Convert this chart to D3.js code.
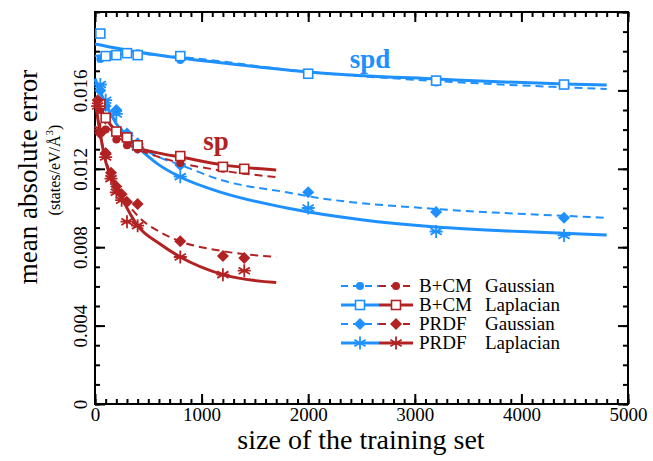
<!DOCTYPE html>
<html>
<head>
<meta charset="utf-8">
<script src="https://cdn.jsdelivr.net/npm/d3@7"></script>
<style>
  body { margin: 0; background: #fff; }
  text { font-family: "Liberation Serif", "DejaVu Serif", serif; }
</style>
</head>
<body>
<div id="chart"></div>
<script>
// chart size
var svg_w = 653;
var svg_h = 461;

var blue = "#1e90ff";
var red = "#b22222";

// tick labels
var xTicks = [0, 1000, 2000, 3000, 4000, 5000];
var yTicks = [0, 0.004, 0.008, 0.012, 0.016];

// measured points  [size, error]
// spd (blue)
var spd_bcm_gauss = [[50, 0.0176], [100, 0.0178], [200, 0.0178], [300, 0.01795], [400, 0.0179], [800, 0.01755], [2000, 0.0169], [3200, 0.0164], [4400, 0.01625]];
var spd_bcm_lapl = [[50, 0.0189], [100, 0.01775], [200, 0.0178], [300, 0.0179], [400, 0.0178], [800, 0.01775], [2000, 0.01685], [3200, 0.0165], [4400, 0.0163]];
var spd_prdf_gauss = [[50, 0.0160], [100, 0.0152], [200, 0.0150], [300, 0.0138], [400, 0.0133], [800, 0.0122], [2000, 0.0108], [3200, 0.0098], [4400, 0.0095]];
var spd_prdf_lapl = [[50, 0.0163], [100, 0.0155], [200, 0.0148], [300, 0.0137], [400, 0.0131], [800, 0.0116], [2000, 0.0100], [3200, 0.0088], [4400, 0.0086]];
// sp (red)
var sp_bcm_gauss = [[50, 0.0150], [100, 0.0140], [200, 0.0135], [300, 0.0132], [400, 0.0130], [800, 0.0123], [1200, 0.0120], [1400, 0.0119]];
var sp_bcm_lapl = [[50, 0.0153], [100, 0.0146], [200, 0.0139], [300, 0.0136], [400, 0.0132], [800, 0.01265], [1200, 0.0121], [1400, 0.0120]];
var sp_prdf_gauss = [[25, 0.0155], [50, 0.0138], [100, 0.0128], [150, 0.0118], [200, 0.0111], [250, 0.0107], [300, 0.0103], [400, 0.0102], [800, 0.0083], [1200, 0.00755], [1400, 0.00745]];
var sp_prdf_lapl = [[25, 0.0152], [50, 0.0140], [100, 0.0126], [150, 0.0115], [200, 0.0108], [250, 0.0104], [300, 0.0093], [400, 0.0091], [800, 0.0075], [1200, 0.0066], [1400, 0.0068]];

// fitted curves
var fit_spd_bcm_gauss = [[0, 0.01776], [400, 0.01786], [800, 0.0177], [2000, 0.01694], [3200, 0.01648], [4800, 0.01607]];
var fit_spd_bcm_lapl = [[0, 0.01837], [400, 0.01796], [800, 0.01765], [1200, 0.0174], [2000, 0.01694], [3200, 0.01658], [4400, 0.01633], [4800, 0.01628]];
var fit_spd_prdf_gauss = [[0, 0.0165], [100, 0.0153], [200, 0.0144], [300, 0.0137], [400, 0.0132], [600, 0.0126], [800, 0.0122], [1200, 0.0114], [1800, 0.0108], [2000, 0.0106], [3200, 0.00995], [4400, 0.0096], [4800, 0.0095]];
var fit_spd_prdf_lapl = [[0, 0.0166], [100, 0.0153], [200, 0.0143], [300, 0.0136], [400, 0.0131], [600, 0.0122], [800, 0.01158], [1200, 0.01077], [1800, 0.0100], [2500, 0.0094], [3200, 0.00903], [4000, 0.0088], [4800, 0.00862]];
var fit_sp_bcm_gauss = [[0, 0.0152], [100, 0.0143], [200, 0.0137], [300, 0.0133], [400, 0.0130], [600, 0.0126], [800, 0.0123], [1200, 0.0119], [1700, 0.01158]];
var fit_sp_bcm_lapl = [[0, 0.0156], [100, 0.0146], [200, 0.0139], [300, 0.0135], [400, 0.0131], [600, 0.0128], [800, 0.0126], [1200, 0.0122], [1700, 0.01194]];
var fit_sp_prdf_gauss = [[0, 0.0155], [75, 0.0131], [263, 0.0106], [400, 0.0096], [600, 0.0088], [800, 0.0083], [1200, 0.0078], [1700, 0.0075]];
var fit_sp_prdf_lapl = [[0, 0.0155], [75, 0.0130], [263, 0.0104], [400, 0.0091], [600, 0.0082], [800, 0.0075], [1200, 0.0066], [1700, 0.0062]];

var legendNames = [["B+CM", "Gaussian"], ["B+CM", "Laplacian"], ["PRDF", "Gaussian"], ["PRDF", "Laplacian"]];

var svg = d3.select("#chart").append("svg")
  .attr("width", svg_w)
  .attr("height", svg_h);

svg.append("rect").attr("width", svg_w).attr("height", svg_h).attr("fill", "#fff");

var x = d3.scaleLinear().domain([0, 5000]).range([95, 628]);
var y = d3.scaleLinear().domain([0, 0.02]).range([404, 12]);

// minor ticks
var xMinor = d3.range(0, 5001, 100);
var yMinor = d3.range(0, 0.02001, 0.001);

function styleAxis(g) {
  g.select(".domain").remove();
  g.selectAll("line").attr("stroke", "#000").attr("stroke-width", 2);
}

svg.append("g").attr("transform", "translate(0,404)")
  .call(d3.axisBottom(x).tickValues(xMinor).tickSize(-5).tickFormat("")).call(styleAxis);
svg.append("g").attr("transform", "translate(0,12)")
  .call(d3.axisTop(x).tickValues(xMinor).tickSize(-5).tickFormat("")).call(styleAxis);
svg.append("g").attr("transform", "translate(95,0)")
  .call(d3.axisLeft(y).tickValues(yMinor).tickSize(-5).tickFormat("")).call(styleAxis);
svg.append("g").attr("transform", "translate(628,0)")
  .call(d3.axisRight(y).tickValues(yMinor).tickSize(-5).tickFormat("")).call(styleAxis);

var xAxis = svg.append("g").attr("transform", "translate(0,404)")
  .call(d3.axisBottom(x).tickValues(xTicks).tickSize(-10).tickPadding(3).tickFormat(d3.format("d")))
  .call(styleAxis);
xAxis.selectAll("text").attr("font-size", 19).attr("fill", "#000")
  .attr("font-family", "Liberation Serif, serif");

svg.append("g").attr("transform", "translate(0,12)")
  .call(d3.axisTop(x).tickValues(xTicks).tickSize(-10).tickFormat("")).call(styleAxis);
svg.append("g").attr("transform", "translate(628,0)")
  .call(d3.axisRight(y).tickValues(yTicks.concat([0.02])).tickSize(-10).tickFormat("")).call(styleAxis);

var yAxis = svg.append("g").attr("transform", "translate(95,0)")
  .call(d3.axisLeft(y).tickValues(yTicks).tickSize(-10).tickFormat(function(d) { return d === 0 ? "0" : d3.format(".3f")(d); }))
  .call(styleAxis);
yAxis.selectAll("text")
  .attr("font-size", 19).attr("fill", "#000")
  .attr("font-family", "Liberation Serif, serif")
  .attr("text-anchor", "middle")
  .attr("x", 0).attr("y", -8).attr("dy", 0)
  .attr("transform", "rotate(-90)");

// frame
svg.append("rect").attr("x", 95).attr("y", 12).attr("width", 533).attr("height", 392)
  .attr("fill", "none").attr("stroke", "#000").attr("stroke-width", 2);

// fitted lines
var line = d3.line()
  .x(function(d) { return x(d[0]); })
  .y(function(d) { return y(d[1]); })
  .curve(d3.curveMonotoneX);

var fits = [
  [fit_spd_bcm_gauss, blue, true], [fit_spd_bcm_lapl, blue, false],
  [fit_spd_prdf_gauss, blue, true], [fit_spd_prdf_lapl, blue, false],
  [fit_sp_bcm_gauss, red, true], [fit_sp_bcm_lapl, red, false],
  [fit_sp_prdf_gauss, red, true], [fit_sp_prdf_lapl, red, false]
];
fits.forEach(function(f) {
  svg.append("path").datum(f[0])
    .attr("d", line)
    .attr("fill", "none")
    .attr("stroke", f[1])
    .attr("stroke-width", f[2] ? 2 : 3)
    .attr("stroke-dasharray", f[2] ? "8,5" : null);
});

// marker shapes
function drawMarker(g, kind, cx, cy, color) {
  if (kind == "dot") {
    g.append("circle").attr("cx", cx).attr("cy", cy).attr("r", 4).attr("fill", color);
  } else if (kind == "square") {
    g.append("rect").attr("x", cx - 4.5).attr("y", cy - 4.5).attr("width", 9).attr("height", 9)
      .attr("fill", "#fff").attr("stroke", color).attr("stroke-width", 1.6);
  } else if (kind == "diamond") {
    var r = 6;
    g.append("path").attr("d", "M" + cx + "," + (cy - r) + "L" + (cx + r) + "," + cy + "L" + cx + "," + (cy + r) + "L" + (cx - r) + "," + cy + "Z")
      .attr("fill", color);
  } else {
    var s = 6.5, p = "";
    [90, 30, 150].forEach(function(a) {
      var dx = s * Math.cos(a * Math.PI / 180), dy = s * Math.sin(a * Math.PI / 180);
      p += "M" + (cx - dx) + "," + (cy - dy) + "L" + (cx + dx) + "," + (cy + dy);
    });
    p += "M" + (cx - s) + "," + cy + "L" + (cx + s) + "," + cy;
    g.append("path").attr("d", p).attr("stroke", color).attr("stroke-width", 1.8).attr("fill", "none");
  }
}

var series = [
  [spd_bcm_gauss, "dot", blue], [spd_bcm_lapl, "square", blue],
  [spd_prdf_gauss, "diamond", blue], [spd_prdf_lapl, "star", blue],
  [sp_bcm_gauss, "dot", red], [sp_bcm_lapl, "square", red],
  [sp_prdf_gauss, "diamond", red], [sp_prdf_lapl, "star", red]
];
var marks = svg.append("g");
series.forEach(function(s) {
  s[0].forEach(function(d) {
    drawMarker(marks, s[1], x(d[0]), y(d[1]), s[2]);
  });
});

// labels in plot
svg.append("text").attr("x", 370).attr("y", 68).attr("text-anchor", "middle")
  .attr("font-size", 27).attr("font-weight", "bold").attr("fill", blue).text("spd");
svg.append("text").attr("x", 216).attr("y", 150).attr("text-anchor", "middle")
  .attr("font-size", 27).attr("font-weight", "bold").attr("fill", red).text("sp");

// legend
var kinds = ["dot", "square", "diamond", "star"];
var legend = svg.append("g");
legendNames.forEach(function(n, i) {
  var ly = 286 + i * 19;
  var dashed = (i % 2 == 0);
  [[341, 379, blue], [379, 413, red]].forEach(function(seg) {
    legend.append("line").attr("x1", seg[0]).attr("x2", seg[1]).attr("y1", ly).attr("y2", ly)
      .attr("stroke", seg[2]).attr("stroke-width", dashed ? 2 : 3)
      .attr("stroke-dasharray", dashed ? "7,5" : null);
    drawMarker(legend, kinds[i], (seg[0] + seg[1]) / 2, ly, seg[2]);
  });
  legend.append("text").attr("x", 419).attr("y", ly + 6).attr("font-size", 19).text(n[0]);
  legend.append("text").attr("x", 485).attr("y", ly + 6).attr("font-size", 19).text(n[1]);
});

// axis titles
svg.append("text").attr("x", 361).attr("y", 449).attr("text-anchor", "middle")
  .attr("font-size", 28).text("size of the training set");
svg.append("text").attr("transform", "translate(37,177) rotate(-90)").attr("text-anchor", "middle")
  .attr("font-size", 27).text("mean absolute error");
var sub = svg.append("text").attr("transform", "translate(60,170) rotate(-90)").attr("text-anchor", "middle")
  .attr("font-size", 16);
sub.append("tspan").text("(states/eV/Å");
sub.append("tspan").attr("dy", -7).attr("font-size", 11).text("3");
sub.append("tspan").attr("dy", 7).text(")");
</script>
</body>
</html>
